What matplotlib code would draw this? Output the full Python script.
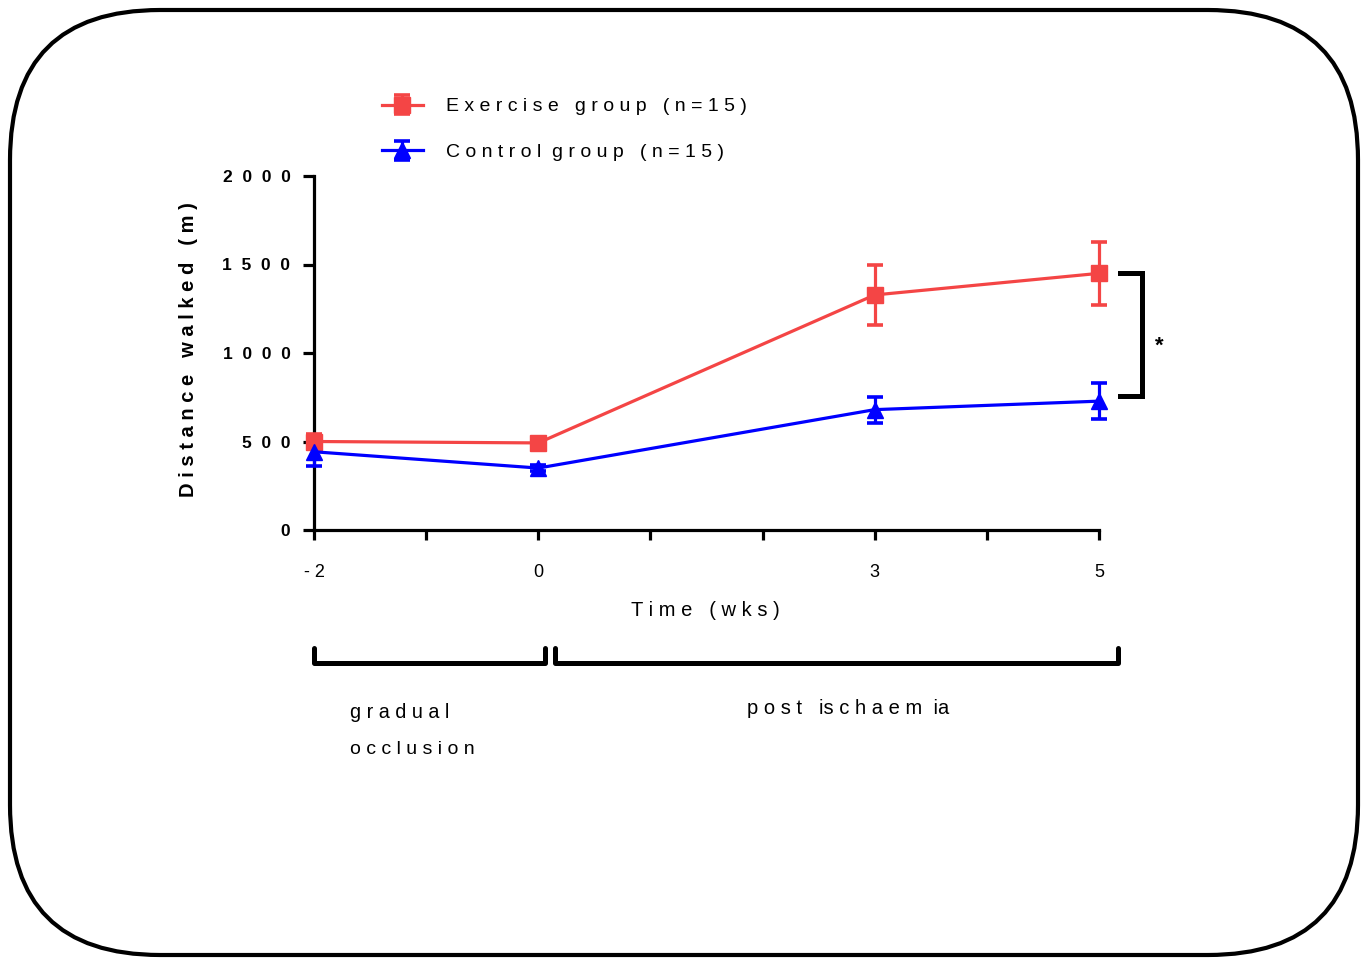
import matplotlib
matplotlib.use("Agg")
import matplotlib.pyplot as plt
from matplotlib.patches import FancyBboxPatch
from matplotlib.transforms import IdentityTransform
from matplotlib.lines import Line2D

# --- data ---
weeks = [-2, 0, 3, 5]
exercise_mean = [500, 492, 1328, 1450]
exercise_sem = [40, 30, 170, 176]
control_mean = [442, 350, 680, 728]
control_sem = [80, 15, 73, 103]

tick_labels = {-2: "- 2", 0: "0", 3: "3", 5: "5"}
y_ticks = [0, 500, 1000, 1500, 2000]
y_tick_labels = ["0", "5  0  0", "1  0  0  0", "1  5  0  0", "2  0  0  0"]

RED = "#F44545"
BLUE = "#0000FF"

W, H = 1371, 958
plt.rcParams["font.family"] = ["Liberation Sans", "DejaVu Sans"]

fig = plt.figure(figsize=(W / 100, H / 100), dpi=100)


def fx(x):
    return x / W


def fy(y):
    return 1 - y / H


# rounded frame around everything (pixel coords)
frame = FancyBboxPatch((10, 3), 1348, 945,
                       boxstyle="round,pad=0,rounding_size=150",
                       transform=IdentityTransform(), fill=False,
                       edgecolor="black", linewidth=3.0)
fig.patches.append(frame)

ax = fig.add_axes([fx(314), fy(530), fx(1099) - fx(314), fy(176) - fy(530)])
ax.set_xlim(-2, 5)
ax.set_ylim(0, 2000)

ax.errorbar(weeks, exercise_mean, yerr=exercise_sem, color=RED, marker="s",
            markersize=11.5, linewidth=2.3, elinewidth=2.3, capsize=6,
            capthick=2.6, clip_on=False, zorder=3,
            label="E x e r c i s e   g r o u p   ( n = 1 5 )")
ax.errorbar(weeks, control_mean, yerr=control_sem, color=BLUE, marker="^",
            markersize=12, linewidth=2.3, elinewidth=2.3, capsize=6,
            capthick=2.6, clip_on=False, zorder=3,
            label="C o n t r o l  g r o u p   ( n = 1 5 )")

for s in ["top", "right"]:
    ax.spines[s].set_visible(False)
for s in ["left", "bottom"]:
    ax.spines[s].set_linewidth(2.3)

ax.set_xticks(range(-2, 6))
ax.set_xticklabels([tick_labels.get(t, "") for t in range(-2, 6)], fontsize=13)
ax.set_yticks(y_ticks)
ax.set_yticklabels(y_tick_labels, fontsize=12.5, fontweight="bold")
ax.tick_params(axis="x", length=7.5, width=2.3, pad=17)
ax.tick_params(axis="y", length=8, width=2.3, pad=9)

fig.text(fx(188), fy(350), "D i s t a n c e   w a l k e d   ( m )",
         rotation=90, ha="center", va="center", fontsize=14.5,
         fontweight="bold")
fig.text(fx(705), fy(610), "T i m e   ( w k s )", ha="center", va="center",
         fontsize=14.5)

# legend
leg = ax.legend(loc="upper left", bbox_to_anchor=(fx(372), fy(88)),
                bbox_transform=fig.transFigure, frameon=False, fontsize=14,
                handlelength=2.1, handletextpad=1.2, labelspacing=1.45,
                borderpad=0)

# significance bracket at week 5
br_top = exercise_mean[-1]
br_bot = control_mean[-1] + 30
ax.plot([5.19, 5.38, 5.38, 5.19], [br_top, br_top, br_bot, br_bot],
        color="black", linewidth=3.6, clip_on=False,
        solid_joinstyle="miter")
ax.text(5.54, (br_top + br_bot) / 2 - 65, "*", ha="center", va="center",
        fontsize=16, fontweight="bold")

# phase brackets under the axis
for x0, x1 in [(314, 545), (555, 1118)]:
    fig.add_artist(Line2D([fx(x0), fx(x0), fx(x1), fx(x1)],
                          [fy(648), fy(663), fy(663), fy(648)],
                          color="black", linewidth=3.6,
                          solid_joinstyle="round", solid_capstyle="round"))

fig.text(fx(350), fy(712), "g r a d u a l", ha="left", va="center",
         fontsize=14.2)
fig.text(fx(350), fy(749), "o c c l u s i o n", ha="left", va="center",
         fontsize=14)
fig.text(fx(747), fy(708), "p o s t   is c h a e m  ia", ha="left",
         va="center", fontsize=14.5)

fig.savefig("out.png", dpi=100)
